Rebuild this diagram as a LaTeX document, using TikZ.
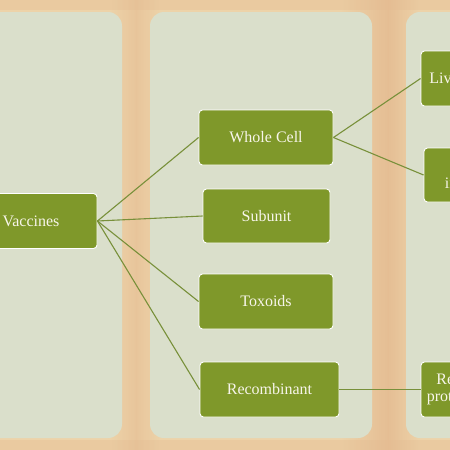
\documentclass[tikz,border=0pt]{standalone}
\usepackage{fontspec}
\setmainfont{Liberation Serif}
\definecolor{wood}{HTML}{EDD3A9}
\definecolor{wooddark}{HTML}{E5BC92}
\definecolor{panel}{HTML}{DADFCB}
\definecolor{olive}{HTML}{7F982A}
\definecolor{conn}{HTML}{78903A}
\definecolor{cream}{HTML}{F7F5EA}
\tikzset{
  panelbox/.style={fill=panel, rounded corners=14pt},
  gbox/.style={draw=white, line width=0.9pt, fill=olive, rounded corners=3.5pt,
    text=cream, font=\fontsize{16}{17}\selectfont, align=center, inner sep=0pt},
  link/.style={draw=conn, line width=1.1pt}
}
\begin{document}
\begin{tikzpicture}[x=1pt,y=-1pt]
\useasboundingbox (0,0) rectangle (450,450);
\clip (0,0) rectangle (450,450);
% wooden background
\fill[wood] (0,0) rectangle (450,450);
\shade[left color=wood, right color=wooddark, opacity=0.9] (340,0) rectangle (388,450);
\shade[left color=wooddark, right color=wood, opacity=0.9] (388,0) rectangle (420,450);
\shade[left color=wood, right color=wooddark, opacity=0.6] (110,0) rectangle (136,450);
\shade[left color=wooddark, right color=wood, opacity=0.6] (136,0) rectangle (160,450);
\fill[wooddark, opacity=0.35] (0,0) rectangle (450,10);
\fill[wooddark, opacity=0.35] (0,440) rectangle (450,450);
% panels
\fill[panelbox] (-30,12) rectangle (122,438);
\fill[panelbox] (150,12) rectangle (372,438);
\fill[panelbox] (406,12) rectangle (560,438);
% boxes
\node[gbox, minimum width=132pt, minimum height=55pt] (vac) at (31,221) {Vaccines};
\node[gbox, minimum width=134pt, minimum height=55pt] (whole) at (266,137.5) {Whole Cell};
\node[gbox, minimum width=127pt, minimum height=54pt] (sub) at (266.5,216) {Subunit};
\node[gbox, minimum width=134pt, minimum height=55pt] (tox) at (266,301.5) {Toxoids};
\node[gbox, minimum width=139pt, minimum height=55pt] (rec) at (269.5,389.5) {Recombinant};
\node[gbox, minimum width=116pt, minimum height=55pt] (live) at (479,78.5) {Live attenuated};
\node[gbox, minimum width=112pt, minimum height=54pt] (kill) at (480,175) {Killed\\inactivated};
\node[gbox, minimum width=116pt, minimum height=55pt] (rprot) at (479,389.5) {Recombinant\\protein vaccines};
% connectors
\draw[link] (vac.east) -- (whole.west);
\draw[link] (vac.east) -- (sub.west);
\draw[link] (vac.east) -- (tox.west);
\draw[link] (vac.east) -- (rec.west);
\draw[link] (whole.east) -- (live.west);
\draw[link] (whole.east) -- (kill.west);
\draw[link] (rec.east) -- (rprot.west);
\end{tikzpicture}
\end{document}
